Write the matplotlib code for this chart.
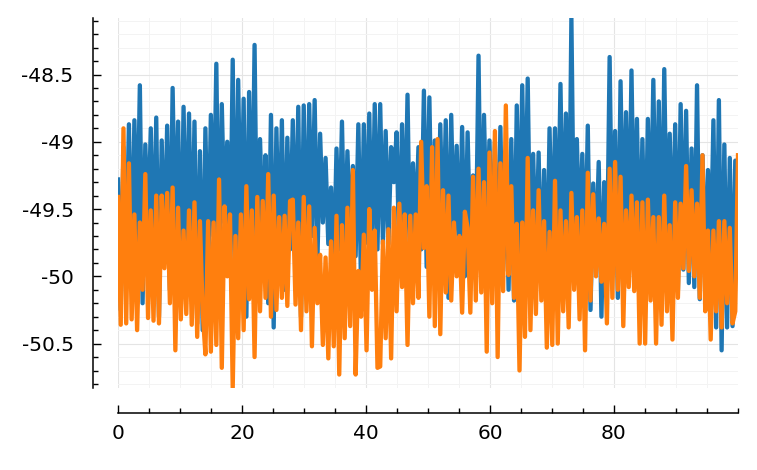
#!/usr/bin/env python3
# -*- coding: utf-8 -*-
"""
plot.py

Dos series ruidosas (azul y naranja) con ejes desplazados, estilo Plots.jl.
Guarda la figura en out.png.
"""

import numpy as np
import matplotlib
matplotlib.use("Agg")
import matplotlib.pyplot as plt
from matplotlib.ticker import MultipleLocator, FuncFormatter


# Valores (picos y valles, de izquierda a derecha)
serie_azul = [
    -49.28, -50.25, -49.04, -49.9, -48.87, -50.1, -48.84, -49.8, -48.58, -50.2,
    -49.02, -49.7, -48.90, -50.0, -48.82, -50.3, -48.99, -49.9, -48.88, -50.1,
    -48.60, -49.8, -48.85, -50.15, -48.74, -49.9, -48.79, -50.05, -48.85, -50.35,
    -49.07, -50.4,
    -48.90, -50.0, -48.80, -49.7, -48.42, -50.1, -48.72, -49.6, -49.0, -50.0,
    -48.39, -50.2, -48.54, -49.8, -48.68, -50.3, -48.63, -49.9, -48.28, -50.05,
    -48.98, -49.7, -49.1, -50.2, -48.80, -50.38, -48.90, -49.9, -48.84, -50.1,
    -48.97, -49.8,
    -48.84, -49.9, -48.74, -50.3, -48.73, -50.0, -48.72, -49.7, -48.69, -49.9,
    -48.94, -49.6, -49.12, -49.76, -49.34, -50.0, -49.05, -49.8, -48.85, -49.9,
    -49.07, -49.7, -49.18, -49.85, -48.87, -50.1, -48.87, -49.75, -48.79, -49.9,
    -48.72, -49.8,
    -48.72, -49.76, -48.92, -49.76, -49.04, -49.3, -48.93, -49.9, -48.87, -49.8,
    -48.65, -50.0, -49.16, -49.7, -49.04, -49.8, -48.62, -49.93, -48.67, -49.84,
    -48.99, -49.98, -48.87, -49.8, -48.84, -50.16, -48.80, -49.75, -49.03, -49.9,
    -48.89, -50.0,
    -48.93, -49.8, -49.25, -49.9, -48.36, -50.0, -48.80, -49.7, -48.99, -49.85,
    -49.0, -50.18, -48.89, -49.96, -49.15, -50.1, -48.98, -50.18, -48.73, -49.9,
    -48.58, -49.8, -48.53, -49.95, -49.09, -49.94, -49.08, -50.1, -49.21, -50.18,
    -48.90, -49.9,
    -48.90, -49.84, -48.57, -49.84, -48.79, -50.07, -48.08, -49.9, -48.98, -49.8,
    -49.09, -50.0, -48.88, -50.25, -49.31, -49.9, -49.15, -50.3, -49.30, -50.0,
    -48.37, -49.9, -48.92, -50.16, -48.55, -49.8, -48.78, -49.9, -48.47, -49.83,
    -48.83, -50.0,
    -48.98, -50.0, -48.83, -49.8, -48.54, -49.9, -48.70, -50.05, -48.46, -49.85,
    -48.94, -49.9, -48.87, -50.1, -48.72, -49.95, -48.77, -50.05, -49.05, -50.08,
    -48.58, -50.17, -49.10, -50.0, -49.21, -49.9, -48.84, -50.38, -48.69, -50.55,
    -49.02, -50.38, -49.12, -50.37, -49.14, -49.94,
]

serie_naranja = [
    -49.41, -50.36, -48.90, -50.35, -49.16, -50.32, -49.54, -50.40, -49.6, -50.1,
    -49.24, -50.31, -49.51, -50.33, -49.40, -50.35, -49.40, -49.94, -49.38, -50.2,
    -49.34, -50.55, -49.49, -50.32, -49.66, -50.28, -49.51, -50.36, -49.45, -50.45,
    -49.59, -50.26,
    -50.58, -49.59, -50.56, -49.6, -50.51, -49.28, -50.68, -49.48, -50.0, -49.54,
    -50.83, -49.7, -50.46, -49.54, -50.4, -49.33, -50.17, -49.51, -50.6, -49.41,
    -50.26, -49.44, -50.16, -49.24, -50.3, -49.40, -50.25, -49.56, -50.16, -49.55,
    -50.22, -49.44,
    -49.43, -50.21, -49.6, -50.40, -49.41, -50.26, -49.48, -50.52, -49.64, -50.2,
    -49.84, -50.51, -49.86, -50.61, -49.74, -50.52, -49.55, -50.73, -49.62, -50.46,
    -49.49, -50.37, -49.21, -50.73, -49.96, -50.3, -49.69, -50.55, -49.5, -50.1,
    -49.66, -50.68,
    -50.67, -49.74, -50.46, -49.65, -50.61, -49.49, -50.26, -49.46, -50.08, -49.54,
    -50.51, -49.55, -50.2, -49.54, -50.16, -49.0, -49.79, -49.33, -50.3, -49.04,
    -50.37, -48.98, -50.43, -49.36, -50.12, -49.4, -50.18, -49.6, -50.0, -49.7,
    -50.27, -49.52,
    -49.64, -50.27, -49.26, -50.18, -49.20, -50.12, -49.30, -50.56, -49.08, -50.2,
    -48.92, -50.6, -49.16, -50.11, -48.73, -49.99, -49.33, -50.16, -49.61, -50.7,
    -49.6, -50.45, -49.12, -50.40, -49.51, -50.28, -49.36, -50.18, -49.59, -50.53,
    -49.67, -50.51,
    -49.29, -50.5, -49.51, -50.26, -49.59, -50.38, -49.38, -50.1, -49.56, -50.32,
    -49.51, -50.55, -49.23, -50.18, -49.39, -50.0, -49.57, -50.04, -49.61, -50.35,
    -49.20, -50.16, -49.15, -50.1, -49.26, -50.37, -49.51, -50.08, -49.40, -50.11,
    -49.45, -50.5,
    -49.45, -50.5, -49.43, -50.18, -49.56, -50.5, -49.56, -50.36, -49.40, -50.26,
    -49.62, -50.47, -49.45, -50.16, -49.46, -49.94, -49.18, -49.96, -49.36, -50.0,
    -49.46, -50.16, -49.10, -50.26, -49.66, -50.47, -49.66, -50.26, -49.59, -50.38,
    -49.59, -50.2, -49.64, -50.35, -50.26, -49.10,
]

x_inicio, x_fin = 0, 100
ticks_x = [0, 20, 40, 60, 80]
ticks_y = [-48.5, -49, -49.5, -50, -50.5]


def formato(v, pos):
    # estilo Plots.jl: sin ceros sobrantes
    return f"{v:g}"


def main():
    plt.rcParams["font.family"] = ["DejaVu Sans"]

    fig = plt.figure(figsize=(7.57, 4.70), dpi=100)
    ax = fig.add_axes([118 / 757, 1 - 388 / 470, 620 / 757, 370 / 470])

    y_azul = np.array(serie_azul)
    y_naranja = np.array(serie_naranja)
    x = np.linspace(x_inicio, x_fin, len(y_azul))

    ax.plot(x, y_azul, color="#1f77b4", lw=3.1, solid_joinstyle="round")
    ax.plot(x, y_naranja, color="#ff7f0e", lw=3.1, solid_joinstyle="round")

    ax.set_xlim(x_inicio, x_fin)
    ax.set_ylim(min(y_azul.min(), y_naranja.min()), max(y_azul.max(), y_naranja.max()))

    ax.set_xticks(ticks_x)
    ax.set_yticks(ticks_y)
    ax.xaxis.set_minor_locator(MultipleLocator(5))
    ax.yaxis.set_minor_locator(MultipleLocator(0.1))
    ax.xaxis.set_major_formatter(FuncFormatter(formato))
    ax.yaxis.set_major_formatter(FuncFormatter(formato))

    ax.grid(which="major", color="#e4e4e4", lw=0.8)
    ax.grid(which="minor", color="#f3f3f3", lw=0.7)
    ax.set_axisbelow(True)

    for lado in ["top", "right"]:
        ax.spines[lado].set_visible(False)
    for lado in ["left", "bottom"]:
        ax.spines[lado].set_position(("outward", 18))
        ax.spines[lado].set_linewidth(1.1)

    ax.tick_params(which="major", direction="in", length=6, width=1.0,
                   labelsize=14.5, pad=8)
    ax.tick_params(which="minor", direction="in", length=3.5, width=1.0)
    ax.tick_params(axis="y", which="major", pad=14)

    fig.savefig("out.png", dpi=100)


if __name__ == "__main__":
    main()
